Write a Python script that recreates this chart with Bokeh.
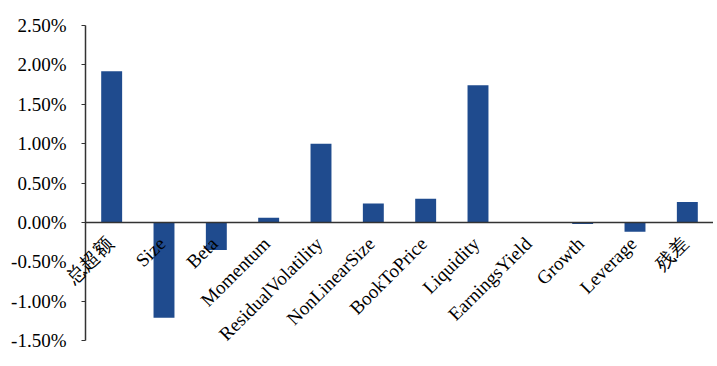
from bokeh.plotting import figure
from bokeh.models import (ColumnDataSource, FactorRange, Range1d, FixedTicker,
                          NumeralTickFormatter, Span)
from bokeh.core.properties import value
from bokeh.embed import file_html
from bokeh.resources import INLINE

categories = ["总超额", "Size", "Beta", "Momentum", "ResidualVolatility",
              "NonLinearSize", "BookToPrice", "Liquidity", "EarningsYield",
              "Growth", "Leverage", "残差"]
values = [0.0192, -0.0121, -0.0035, 0.0006, 0.0100, 0.0024, 0.0030, 0.0174,
          0.0000, -0.0002, -0.0012, 0.0026]
y_ticks = [-0.015, -0.010, -0.005, 0.0, 0.005, 0.010, 0.015, 0.020, 0.025]

src = ColumnDataSource(dict(cat=categories, val=values, zero=[0.0] * len(categories)))

p = figure(width=713, height=360, output_backend="svg", toolbar_location=None,
           x_range=FactorRange(*categories), y_range=Range1d(-0.0169, 0.025),
           x_axis_location=None,
           min_border_left=85, min_border_right=0, min_border_top=25,
           min_border_bottom=5)
p.outline_line_color = None
p.grid.visible = False

p.vbar(x="cat", top="val", width=0.4, source=src, color="#1F4B8E", line_color=None)

zero = Span(location=0, dimension="width", line_color="#333333", line_width=1.5)
p.add_layout(zero)

ax = p.yaxis[0]
ax.bounds = (-0.015, 0.025)
ax.ticker = FixedTicker(ticks=y_ticks)
ax.formatter = NumeralTickFormatter(format="0.00%")
ax.axis_line_color = "#333333"
ax.axis_line_width = 1.5
ax.major_tick_line_color = "#333333"
ax.major_tick_out = 4
ax.major_tick_in = 0
ax.minor_tick_line_color = None
ax.major_label_standoff = 15
ax.major_label_text_font = "Liberation Serif"
ax.major_label_text_font_size = "19px"
ax.major_label_text_color = "black"

p.text(x="cat", y="zero", text="cat", source=src, angle=0.785398,
       text_align="right", text_baseline="middle",
       x_offset=-2, y_offset=18, level="overlay",
       text_font=value("Liberation Serif"), text_font_size="19px",
       text_color="black")

open("out.html", "w").write(file_html(p, INLINE))
